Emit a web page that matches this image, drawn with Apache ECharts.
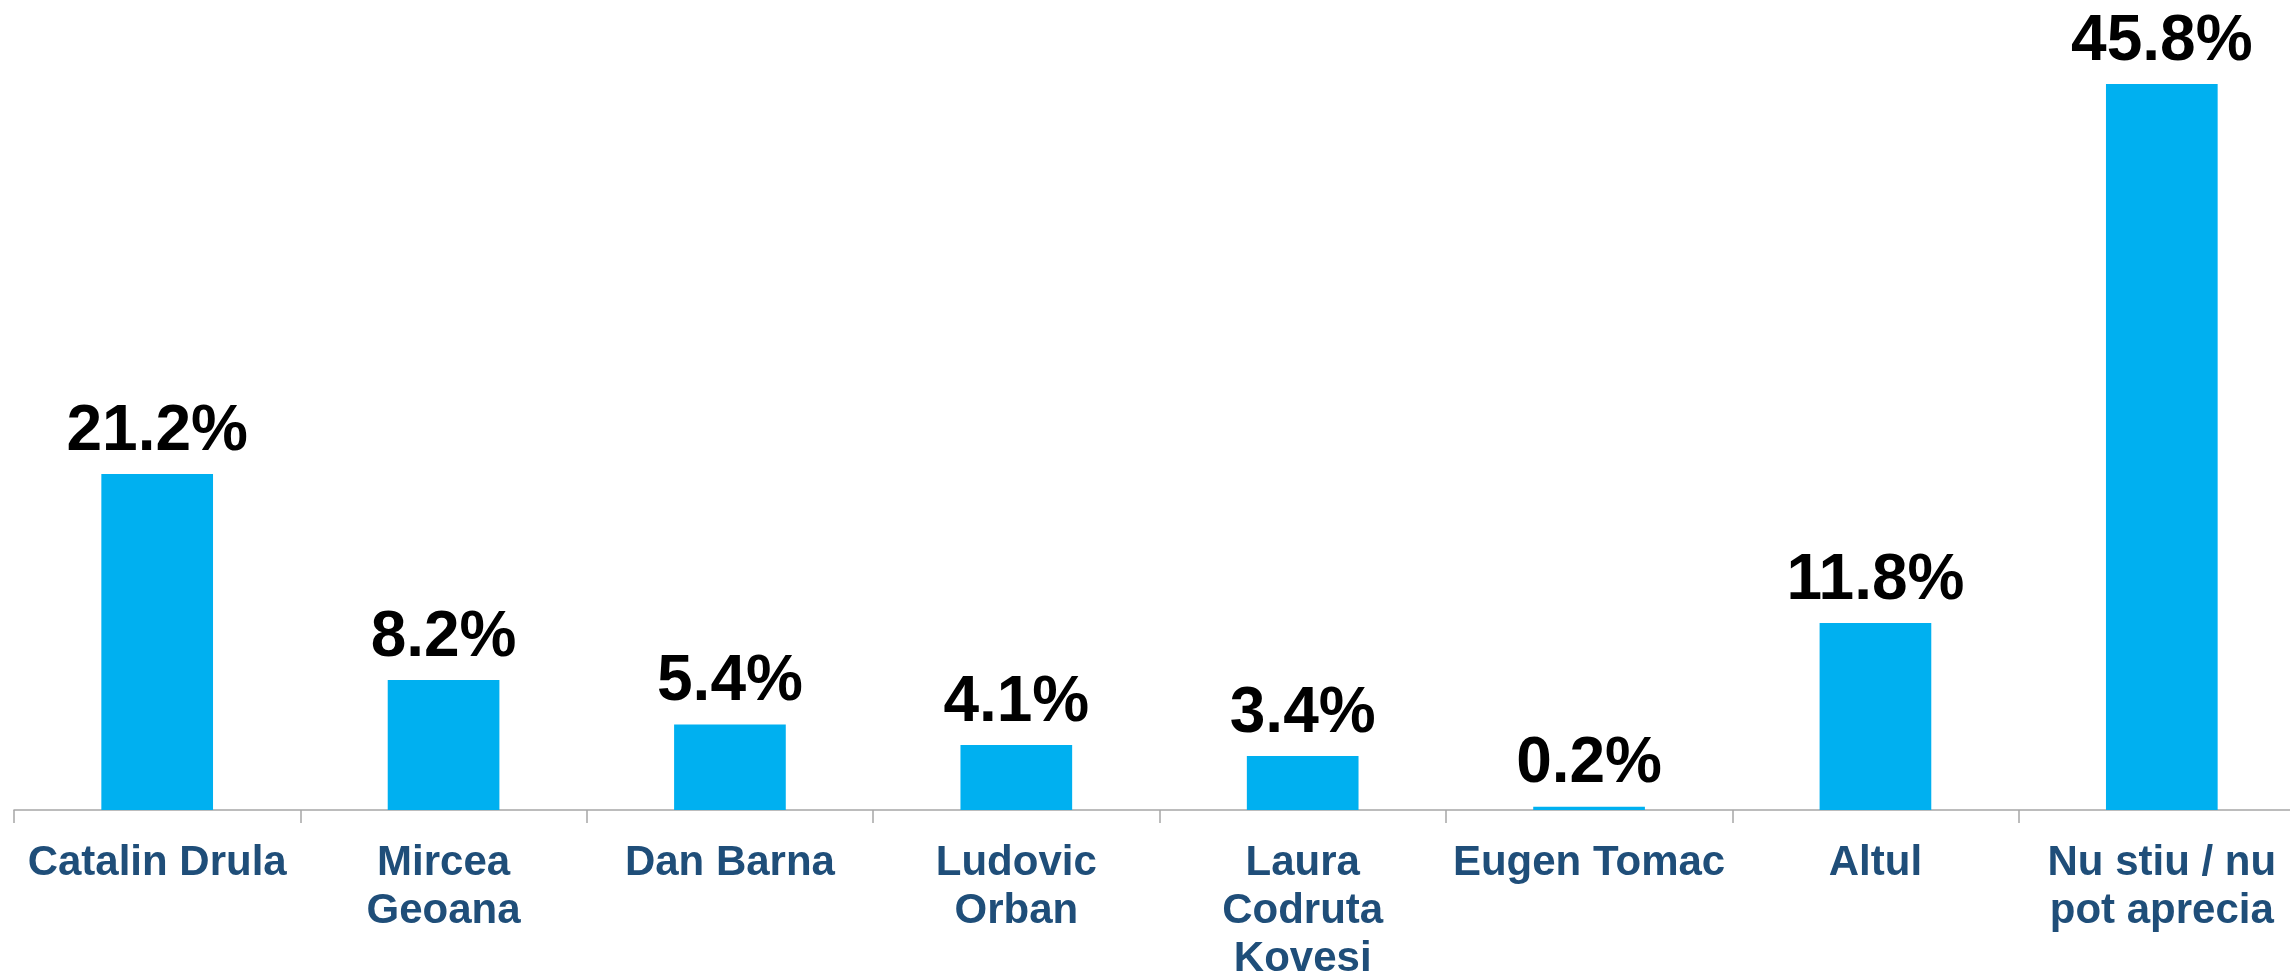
<!DOCTYPE html>
<html>
<head>
    <meta charset="utf-8">
    <title>Sondaj</title>
    <script src="https://cdn.jsdelivr.net/npm/echarts@6/dist/echarts.min.js"></script>
    <style type="text/css">
        html, body {
            margin: 0;
            padding: 0;
            background-color: #ffffff;
        }

        #chart {
            width: 2290px;
            height: 974px;
        }
    </style>
</head>
<body>
<div id="chart"></div>
<script>
    // categorii si procente
    var candidati = ['Catalin Drula', 'Mircea\nGeoana', 'Dan Barna', 'Ludovic\nOrban',
        'Laura\nCodruta\nKovesi', 'Eugen Tomac', 'Altul', 'Nu stiu / nu\npot aprecia'];
    var procente = [21.2, 8.2, 5.4, 4.1, 3.4, 0.2, 11.8, 45.8];

    var chart = echarts.init(document.getElementById('chart'));
    var option = {
        backgroundColor: '#ffffff',
        animation: false,
        grid: {
            left: 14,
            width: 2291,     // axa iese putin in afara imaginii la dreapta
            top: 17.5,
            bottom: 164,
            outerBoundsMode: 'none',
            containLabel: false
        },
        xAxis: {
            type: 'category',
            data: candidati,
            axisLine: {
                lineStyle: {color: '#A6A6A6', width: 1.5}
            },
            axisTick: {
                show: true,
                length: 13,
                lineStyle: {color: '#A6A6A6', width: 1.5}
            },
            axisLabel: {
                interval: 0,
                margin: 29,
                color: '#1F4E79',
                fontFamily: 'Liberation Sans, Arial, sans-serif',
                fontWeight: 'bold',
                fontSize: 42,
                lineHeight: 48
            }
        },
        yAxis: {
            type: 'value',
            min: 0,
            max: 50,
            show: false,
            splitLine: {show: false}
        },
        series: [
            {
                type: 'bar',
                data: procente,
                barWidth: '39%',
                itemStyle: {color: '#00B0F0'},
                label: {
                    show: true,
                    position: 'top',
                    distance: 10,
                    color: '#000000',
                    fontFamily: 'Liberation Sans, Arial, sans-serif',
                    fontWeight: 'bold',
                    fontSize: 64,
                    formatter: function (p) {
                        return p.value.toFixed(1) + '%';
                    }
                }
            }
        ]
    };
    chart.setOption(option);
</script>
</body>
</html>
